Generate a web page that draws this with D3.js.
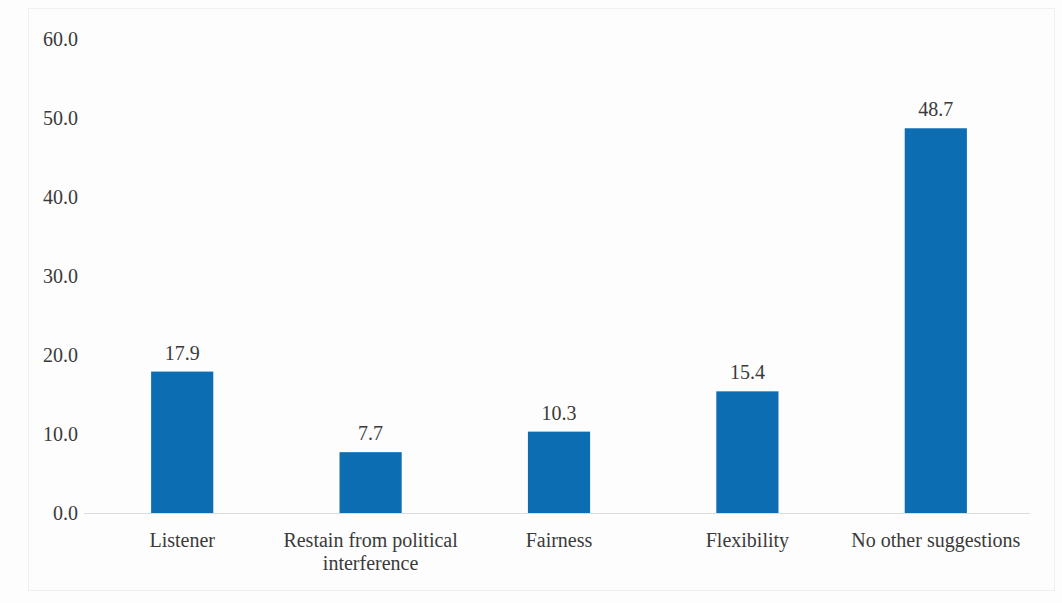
<!DOCTYPE html>
<html>
<head>
<meta charset="utf-8">
<script src="https://cdn.jsdelivr.net/npm/d3@7"></script>
<style>
  html, body { margin: 0; padding: 0; background: #fdfdfd; }
  svg { display: block; }
</style>
</head>
<body>
<svg id="chart" width="1062" height="603"></svg>
<script>
// Survey responses (%) by suggestion category
const categories = [
  "Listener",
  "Restain from political interference",
  "Fairness",
  "Flexibility",
  "No other suggestions"
];
const values = [17.9, 7.7, 10.3, 15.4, 48.7];
const labelLines = [
  ["Listener"],
  ["Restain from political", "interference"],
  ["Fairness"],
  ["Flexibility"],
  ["No other suggestions"]
];
const yTicks = [0, 10, 20, 30, 40, 50, 60];

const svg = d3.select("#chart");
const font = "Liberation Serif";
const fontSize = "20px";
const textColor = "#3a3a3a";
const barColor = "#0c6db3";

// faint outer frame of the chart area
svg.append("rect")
  .attr("x", 28.5).attr("y", 8.5)
  .attr("width", 1026).attr("height", 582)
  .attr("fill", "none")
  .attr("stroke", "#f0f0f0");

const x = d3.scaleBand()
  .domain(categories)
  .range([88, 1030])
  .paddingInner(0.67)
  .paddingOuter(0.335);

const y = d3.scaleLinear()
  .domain([0, 60])
  .range([513, 39]);

// y-axis tick labels (no axis line or tick marks)
const yAxis = d3.axisLeft(y)
  .tickValues(yTicks)
  .tickFormat(d3.format(".1f"))
  .tickSize(0)
  .tickPadding(0);

const gy = svg.append("g")
  .attr("transform", "translate(78,0)")
  .call(yAxis)
  .attr("font-family", null)
  .attr("font-size", null);
gy.select(".domain").remove();
gy.selectAll("text")
  .style("font-family", font)
  .style("font-size", fontSize)
  .attr("fill", textColor);

// baseline
svg.append("line")
  .attr("x1", 84).attr("x2", 1030)
  .attr("y1", y(0) + 0.5).attr("y2", y(0) + 0.5)
  .attr("stroke", "#dcdcdc")
  .attr("stroke-width", 1);

const data = categories.map((c, i) => ({ c, v: values[i], lines: labelLines[i] }));

// bars
svg.append("g").selectAll("rect")
  .data(data)
  .join("rect")
  .attr("x", d => x(d.c))
  .attr("width", x.bandwidth())
  .attr("y", d => y(d.v))
  .attr("height", d => y(0) - y(d.v))
  .attr("fill", barColor);

// value labels
svg.append("g").selectAll("text")
  .data(data)
  .join("text")
  .attr("x", d => x(d.c) + x.bandwidth() / 2)
  .attr("y", d => y(d.v) - 12)
  .attr("text-anchor", "middle")
  .style("font-family", font)
  .style("font-size", fontSize)
  .attr("fill", textColor)
  .text(d => d.v.toFixed(1));

// category labels
const cat = svg.append("g").selectAll("text")
  .data(data)
  .join("text")
  .attr("x", d => x(d.c) + x.bandwidth() / 2)
  .attr("y", y(0) + 34)
  .attr("text-anchor", "middle")
  .style("font-family", font)
  .style("font-size", fontSize)
  .attr("fill", textColor);
cat.selectAll("tspan")
  .data(d => d.lines.map(t => ({ t, cx: x(d.c) + x.bandwidth() / 2 })))
  .join("tspan")
  .attr("x", d => d.cx)
  .attr("dy", (d, i) => i === 0 ? 0 : 23)
  .text(d => d.t);
</script>
</body>
</html>
